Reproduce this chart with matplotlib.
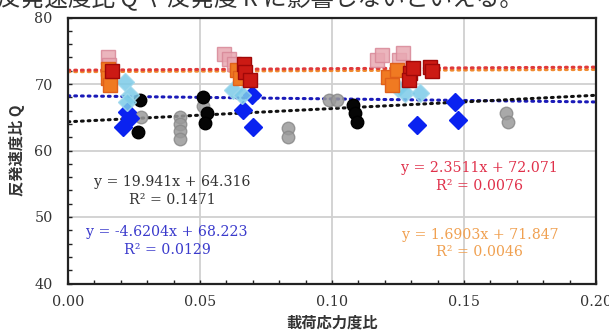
import matplotlib
matplotlib.use("Agg")
import matplotlib.pyplot as plt
import numpy as np
from matplotlib.ticker import MultipleLocator

# ---- data ----
pink_x = [0.0152, 0.0155, 0.059, 0.061, 0.063, 0.117, 0.119, 0.1255, 0.127]
pink_y = [74.0, 72.8, 74.5, 73.8, 73.0, 73.6, 74.3, 73.6, 74.6]

orange_x = [0.0152, 0.0152, 0.0158, 0.064, 0.065, 0.1212, 0.1227, 0.1246]
orange_y = [72.3, 70.9, 69.8, 72.1, 70.9, 71.1, 69.9, 72.1]

red_x = [0.0167, 0.0667, 0.067, 0.069, 0.1295, 0.1292, 0.1307, 0.1371, 0.1378]
red_y = [72.0, 73.0, 71.8, 70.6, 71.7, 70.6, 72.4, 72.6, 71.9]

lblue_x = [0.0216, 0.0235, 0.0223, 0.0625, 0.066, 0.125, 0.1277, 0.1333]
lblue_y = [70.3, 68.3, 67.3, 69.1, 68.3, 69.4, 68.6, 68.6]

blue_x = [0.0223, 0.0235, 0.0208, 0.0697, 0.0663, 0.0700, 0.1322, 0.1466, 0.1477]
blue_y = [65.8, 64.9, 63.5, 68.3, 66.1, 63.5, 63.8, 67.3, 64.6]

black_x = [0.0273, 0.0265, 0.051, 0.0527, 0.052, 0.108, 0.1087, 0.1095]
black_y = [67.6, 62.8, 68.0, 65.6, 64.1, 66.8, 65.6, 64.3]

gray_x = [0.0275, 0.0424, 0.0424, 0.0424, 0.0424, 0.051, 0.0833, 0.0833, 0.099, 0.102, 0.1659, 0.1667]
gray_y = [65.0, 65.0, 64.0, 62.9, 61.7, 66.7, 63.4, 62.0, 67.6, 67.6, 65.6, 64.3]

# trend lines (slope, intercept)
trend_black = (19.941, 64.316)
trend_blue = (-4.6204, 68.223)
trend_red = (2.3511, 72.071)
trend_orange = (1.6903, 71.847)

eq_black = "y = 19.941x + 64.316\nR² = 0.1471"
eq_blue = "y = -4.6204x + 68.223\nR² = 0.0129"
eq_red = "y = 2.3511x + 72.071\nR² = 0.0076"
eq_orange = "y = 1.6903x + 71.847\nR² = 0.0046"

xticks = [0.00, 0.05, 0.10, 0.15, 0.20]
yticks = [40, 50, 60, 70, 80]

# ---- figure ----
fig = plt.figure(figsize=(6.09, 3.36), dpi=100)
ax = fig.add_axes([68/609, 1-283.5/336, (596-68)/609, (283.5-17.5)/336])

ax.set_xlim(0, 0.20)
ax.set_ylim(40, 80)
ax.set_xticks(xticks)
ax.set_yticks(yticks)
ax.xaxis.set_minor_locator(MultipleLocator(0.01))
ax.yaxis.set_minor_locator(MultipleLocator(2))
ax.grid(True, which='major', color='#d0d0d0', lw=1.3, zorder=0)
ax.set_axisbelow(True)
for s in ax.spines.values():
    s.set_linewidth(1.6)
    s.set_color('#222222')
ax.tick_params(which='both', direction='in', top=False, right=False, colors='#222222',
               labelcolor='#333333')
ax.tick_params(which='major', length=3, width=1)
ax.tick_params(which='minor', length=3, width=1)
serif = 'DejaVu Serif'
ax.set_xticklabels(["%.2f" % v for v in xticks], fontfamily=serif, fontsize=10.3)
ax.set_yticklabels([str(v) for v in yticks], fontfamily=serif, fontsize=10.3)
ax.tick_params(axis='x', pad=8)
ax.tick_params(axis='y', pad=11)

# trend lines
xl = np.array([0.0, 0.20])
for (m, b), col in [(trend_orange, '#f08a30'), (trend_red, '#e03a3a'),
                    (trend_blue, '#1a1ab8'), (trend_black, '#111111')]:
    ax.plot(xl, m*xl + b, ls=(0, (0.6, 1.6)), lw=2.2, color=col,
            dash_capstyle='round', zorder=2)

# markers
ax.plot(gray_x, gray_y, 'o', ms=9, color='#9a9a9a', mec='#8a8a8a', alpha=0.85, zorder=3)
ax.plot(black_x, black_y, 'o', ms=9, color='#050505', mec='#000000', zorder=3)
ax.plot(blue_x, blue_y, 'D', ms=9, color='#0a22f0', mec='#0a22f0', zorder=4)
ax.plot(lblue_x, lblue_y, 'D', ms=9, color='#7ccbe8', mec='#9fd8ec', alpha=0.85, zorder=4)
ax.plot(pink_x, pink_y, 's', ms=9.5, color='#e8a8b2', mec='#d88898', alpha=0.85, zorder=5)
ax.plot(orange_x, orange_y, 's', ms=9.5, color='#f07a22', mec='#e0601a', zorder=5)
ax.plot(red_x, red_y, 's', ms=9.5, color='#cc1a14', mec='#a00808', zorder=6)

# equations
ax.text(0.0395, 53.9, eq_black, ha='center', va='center', fontfamily=serif,
        fontsize=10.2, color='#333333', linespacing=1.3, zorder=7)
ax.text(0.0375, 46.4, eq_blue, ha='center', va='center', fontfamily=serif,
        fontsize=10.2, color='#3a3acc', linespacing=1.3, zorder=7)
ax.text(0.156, 56.0, eq_red, ha='center', va='center', fontfamily=serif,
        fontsize=10.2, color='#e0304a', linespacing=1.3, zorder=7)
ax.text(0.156, 46.0, eq_orange, ha='center', va='center', fontfamily=serif,
        fontsize=10.2, color='#f0a050', linespacing=1.3, zorder=7)

jp = ['Noto Sans CJK JP', 'DejaVu Sans']
ax.set_xlabel('載荷応力度比', fontfamily=jp, fontsize=11, fontweight='bold',
              color='#333333', labelpad=4)
ax.set_ylabel('反発速度比 Q', fontfamily=jp, fontsize=11, fontweight='bold',
              color='#333333', labelpad=7)

# partial document text above the chart
fig.text(-3/609, 1 + 1/336, '反発速度比 Q や反発度 R に影響しないといえる。',
         ha='left', va='center', fontfamily=['Noto Sans CJK JP', 'DejaVu Serif'],
         fontsize=17, color='#333333')

fig.savefig('out.png', dpi=100)
